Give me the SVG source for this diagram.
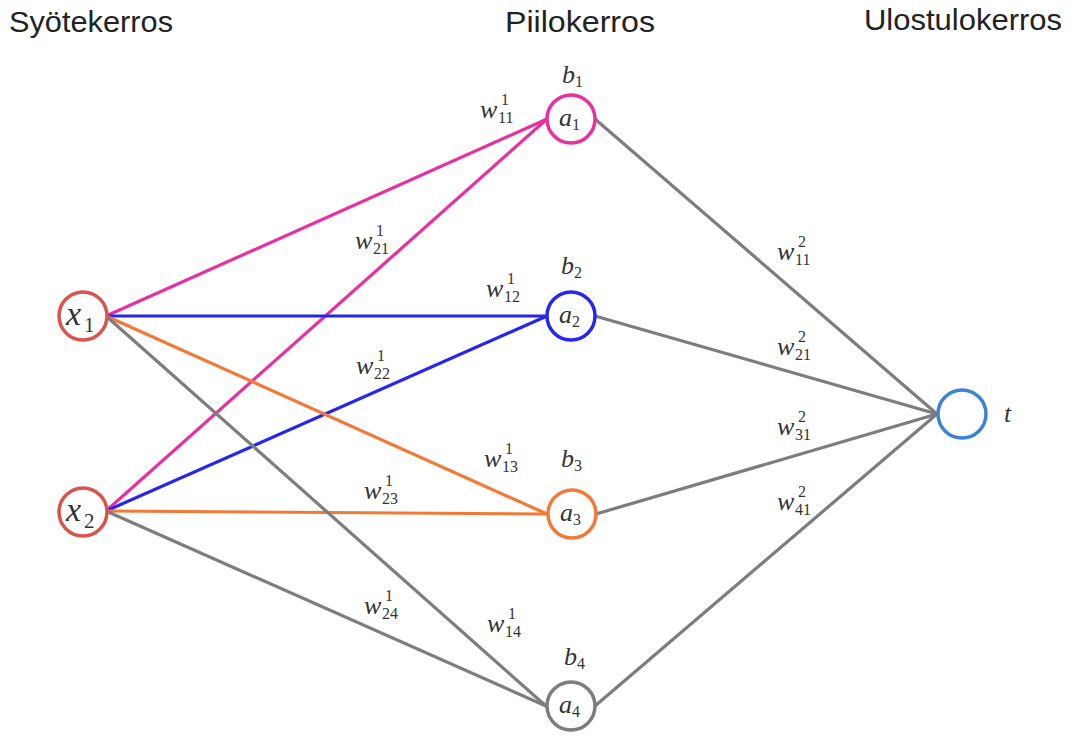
<svg xmlns="http://www.w3.org/2000/svg" width="1072" height="737" viewBox="0 0 1072 737">
<style>
.title{font-family:"Liberation Sans",Arial,sans-serif;font-size:29px;fill:#222}
.m{font-family:"Liberation Serif","Times New Roman",serif;font-style:italic;font-size:26px;fill:#333}
.s{font-family:"Liberation Serif","Times New Roman",serif;font-size:16px;fill:#333}
.big{font-family:"Liberation Serif","Times New Roman",serif;font-style:italic;font-size:34px;fill:#333}
.bigs{font-family:"Liberation Serif","Times New Roman",serif;font-size:21px;fill:#333}
.node{fill:#fff;stroke-width:3.5}
.e{stroke-width:3.2;fill:none;stroke-linecap:round}
.pink{stroke:#e8309f}.blue{stroke:#2626ee}.orange{stroke:#f27a36}.gray{stroke:#7d7d7d}
</style>
<rect width="1072" height="737" fill="#fff"/>
<g id="titles">
<text class="title" x="9" y="32" textLength="164" lengthAdjust="spacingAndGlyphs">Syötekerros</text>
<text class="title" x="505" y="32" textLength="150" lengthAdjust="spacingAndGlyphs">Piilokerros</text>
<text class="title" x="864" y="30" textLength="198" lengthAdjust="spacingAndGlyphs">Ulostulokerros</text>
</g>
<g id="connectors">
<line class="e pink" x1="106" y1="316" x2="547" y2="119"/>
<line class="e pink" x1="106" y1="511" x2="547" y2="119"/>
<line class="e blue" x1="106" y1="316" x2="547" y2="316"/>
<line class="e blue" x1="106" y1="511" x2="547" y2="316"/>
<line class="e orange" x1="106" y1="316" x2="547" y2="514"/>
<line class="e orange" x1="106" y1="511" x2="547" y2="514"/>
<line class="e gray" x1="106" y1="316" x2="546" y2="706"/>
<line class="e gray" x1="106" y1="511" x2="546" y2="706"/>
<line class="e gray" x1="595" y1="119" x2="937" y2="414"/>
<line class="e gray" x1="595" y1="316" x2="937" y2="414"/>
<line class="e gray" x1="596" y1="514" x2="937" y2="414"/>
<line class="e gray" x1="595" y1="706" x2="937" y2="414"/>
</g>
<g id="x1"><circle class="node" cx="83" cy="316" r="24" stroke="#d9544f"/><text class="big" x="66" y="325">x</text><text class="bigs" x="84" y="332">1</text></g>
<g id="x2"><circle class="node" cx="83" cy="512" r="24" stroke="#d9544f"/><text class="big" x="66" y="521">x</text><text class="bigs" x="84" y="528">2</text></g>
<g id="a1"><circle class="node" cx="571" cy="119" r="24" stroke="#e8309f"/><text class="m" x="559" y="126">a</text><text class="s" x="572" y="130">1</text><text class="m" x="562" y="83">b</text><text class="s" x="575" y="87">1</text></g>
<g id="a2"><circle class="node" cx="571" cy="316" r="24" stroke="#2626ee"/><text class="m" x="559" y="323">a</text><text class="s" x="572" y="327">2</text><text class="m" x="561" y="274">b</text><text class="s" x="574" y="278">2</text></g>
<g id="a3"><circle class="node" cx="572" cy="514" r="24" stroke="#f27a36"/><text class="m" x="560" y="521">a</text><text class="s" x="573" y="525">3</text><text class="m" x="561" y="467">b</text><text class="s" x="574" y="471">3</text></g>
<g id="a4"><circle class="node" cx="571" cy="706" r="24" stroke="#7d7d7d"/><text class="m" x="559" y="713">a</text><text class="s" x="572" y="717">4</text><text class="m" x="564" y="665">b</text><text class="s" x="577" y="669">4</text></g>
<g id="t"><circle class="node" cx="962" cy="414" r="24" stroke="#3b83d4"/><text class="m" x="1004" y="422">t</text></g>
<g id="weights">
<text class="m" x="480" y="118">w</text><text class="s" x="501" y="105">1</text><text class="s" x="498" y="123">11</text>
<text class="m" x="355" y="249">w</text><text class="s" x="376" y="236">1</text><text class="s" x="373" y="254">21</text>
<text class="m" x="486" y="297">w</text><text class="s" x="507" y="284">1</text><text class="s" x="504" y="302">12</text>
<text class="m" x="356" y="374">w</text><text class="s" x="377" y="361">1</text><text class="s" x="374" y="379">22</text>
<text class="m" x="484" y="467">w</text><text class="s" x="505" y="454">1</text><text class="s" x="502" y="472">13</text>
<text class="m" x="364" y="499">w</text><text class="s" x="385" y="486">1</text><text class="s" x="382" y="504">23</text>
<text class="m" x="364" y="614">w</text><text class="s" x="385" y="601">1</text><text class="s" x="382" y="619">24</text>
<text class="m" x="487" y="632">w</text><text class="s" x="508" y="619">1</text><text class="s" x="505" y="637">14</text>
<text class="m" x="777" y="260">w</text><text class="s" x="798" y="247">2</text><text class="s" x="795" y="265">11</text>
<text class="m" x="777" y="355">w</text><text class="s" x="798" y="342">2</text><text class="s" x="795" y="360">21</text>
<text class="m" x="777" y="435">w</text><text class="s" x="798" y="422">2</text><text class="s" x="795" y="440">31</text>
<text class="m" x="777" y="510">w</text><text class="s" x="798" y="497">2</text><text class="s" x="795" y="515">41</text>
</g>
</svg>
